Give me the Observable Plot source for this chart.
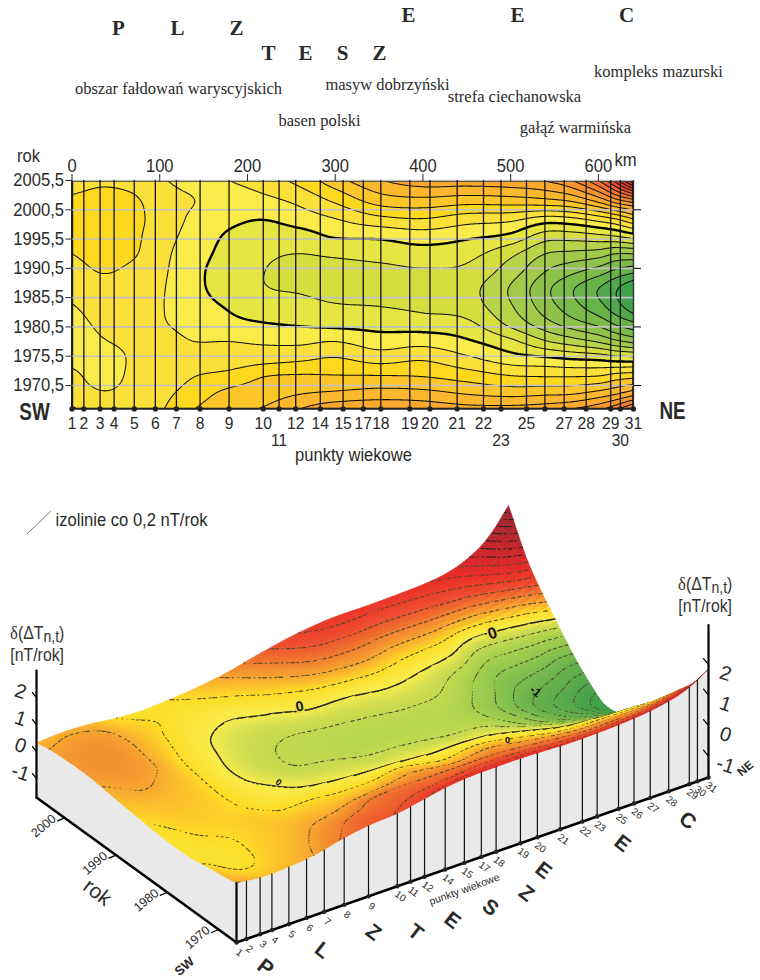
<!DOCTYPE html>
<html><head><meta charset="utf-8">
<script src="https://cdn.jsdelivr.net/npm/d3@7"></script>
<script src="https://cdn.jsdelivr.net/npm/@observablehq/plot@0.6"></script>
<style>
html,body{margin:0;padding:0;background:#fff}
svg{display:block;overflow:visible}
#wrap{position:relative;width:760px;height:980px;overflow:hidden}
.dl{position:absolute;font:18px/22px "Liberation Sans",sans-serif;color:#333;text-align:center;transform:scaleX(.88);transform-origin:left top}
.dl sub{font-size:16px;line-height:0;vertical-align:-3px}
.dl i{font:19px "Liberation Serif",serif}
</style></head><body><div id="wrap"></div>
<script>
// ---------- data ----------
const years=[2005.5,2002,1999,1996,1993,1990,1987,1984,1981,1978,1975,1972,1969,1966.5];
const kmColumns=[0,35,70,105,140,180,220,260,300,350,400,450,500,540,570,600,620,640];
const km000=[.32,.43,.46,.46,.40,.32,.26,.19,.14,.12,.15,.25,.32,.42];
const km035=[.37,.46,.50,.50,.47,.41,.32,.27,.23,.19,.14,.13,.22,.30];
const km070=[.33,.43,.45,.44,.42,.35,.30,.27,.25,.23,.22,.24,.27,.32];
const km105=[.21,.28,.30,.27,.24,.22,.205,.20,.21,.26,.28,.30,.36,.40];
const km140=[.15,.20,.16,.12,.08,.05,.05,.08,.12,.20,.30,.40,.50,.60];
const km180=[.20,.12,.05,-.03,-.07,-.10,-.09,-.02,.05,.20,.30,.47,.67,.76];
const km220=[.30,.15,.01,-.10,-.17,-.20,-.19,-.10,.01,.17,.33,.60,.72,.82];
const km260=[.47,.25,.10,-.08,-.20,-.23,-.22,-.13,-.02,.16,.37,.63,.80,1.00];
const km300=[.72,.43,.20,.02,-.17,-.26,-.27,-.18,-.05,.20,.42,.62,.85,1.15];
const km350=[.98,.68,.35,.04,-.13,-.25,-.28,-.20,-.07,.10,.33,.62,.90,1.18];
const km400=[1.12,.73,.40,.10,-.08,-.22,-.27,-.24,-.10,.13,.38,.60,.88,1.15];
const km450=[1.12,.68,.30,.04,-.13,-.25,-.33,-.30,-.15,.03,.25,.52,.80,1.08];
const km500=[1.15,.70,.26,-.05,-.35,-.50,-.62,-.58,-.45,-.15,.10,.42,.75,1.08];
const km540=[1.22,.74,.13,-.30,-.60,-.80,-.95,-.90,-.72,-.38,.05,.40,.78,1.12];
const km570=[1.40,.82,.17,-.30,-.65,-.95,-1.18,-1.12,-.90,-.50,0,.40,.80,1.20];
const km600=[1.80,1.05,.30,-.25,-.70,-1.10,-1.40,-1.33,-1.05,-.62,-.03,.42,.90,1.35];
const km620=[2.30,1.30,.42,-.20,-.80,-1.25,-1.58,-1.52,-1.22,-.75,-.08,.50,1.00,1.55];
const km640=[3.00,1.50,.62,-.10,-.80,-1.35,-1.77,-1.72,-1.35,-.85,-.10,.55,1.15,1.85];
const profiles=[km000,km035,km070,km105,km140,km180,km220,km260,km300,km350,km400,km450,km500,km540,km570,km600,km620,km640];

const pointNames=[1,2,3,4,5,6,7,8,9,10,11,12,14,15,17,18,19,20,21,22,23,25,26,27,28,29,30,31];
const pointKm=[0,13.5,32,48,71,95,119,146,179,218,236,255,283,309,332,352,385,408,439,469,489,518,539,561,586,614,625,640];
const lowerRowNames=[11,23,30];
const hiddenTopNames=[26];
const yearTicks=[2005.5,2000.5,1995.5,1990.5,1985.5,1980.5,1975.5,1970.5];
const kmTicks=[0,100,200,300,400,500,600];
const rightTicks=[2000.5,1990.5,1980.5,1970.5];
const bandBreaks=[-1.6,-1.4,-1.2,-1,-.8,-.6,-.4,-.2,0,.2,.4,.6,.8,1,1.2,1.4,1.6,1.8,2,2.2,2.4,2.6,2.8];
const bandColors=["#3fa34a","#4fa94a","#66b34a","#7cbb4a","#8fc24a","#a2c94a","#b8d24a","#d5de3e","#e6e543","#f9ec4a","#fce03a","#fdd81f","#fcc62a","#fbb72e","#f9a92e","#f7962d","#f4842c","#f2722c","#ef602c","#ec4e2c","#e63c2c","#df352c","#d9322c","#d22f2c"];
const surfaceStops=[-2,-1.6,-1,-.4,-.12,0,.2,.32,.45,.65,.85,1.2,1.8,2.4,3.1];
const surfaceColors=["#3a9a48","#439f48","#66b04a","#a3cf4b","#cfdc4e","#f8ec4a","#fddc22","#fbb82b","#f59a2e","#f0702c","#ed4a2b","#ea2a26","#c6252c","#aa262e","#8f2a2e"];
const zTicks=[2,1,0,-1];
const axisYears=[2000,1990,1980,1970];
const formations=["P","L","Z","T","E","S","Z","E","E","C"];
const regions=["obszar fałdowań waryscyjskich","masyw dobrzyński","strefa ciechanowska","kompleks mazurski","basen polski","gałąź warmińska"];

function hermite(xs,ys,x){
  let i=0;const n=xs.length;
  while(i<n-2&&x>xs[i+1])i++;
  const h=xs[i+1]-xs[i],t=Math.max(0,Math.min(1,(x-xs[i])/h));
  const slope=k=>k<=0?(ys[1]-ys[0])/(xs[1]-xs[0]):k>=n-1?(ys[n-1]-ys[n-2])/(xs[n-1]-xs[n-2]):(ys[k+1]-ys[k-1])/(xs[k+1]-xs[k-1]);
  const m0=slope(i)*h,m1=slope(i+1)*h,t2=t*t,t3=t2*t;
  return (2*t3-3*t2+1)*ys[i]+(t3-2*t2+t)*m0+(-2*t3+3*t2)*ys[i+1]+(t3-t2)*m1;
}
const asc=[...years].reverse();
const rows=asc.map((_,r)=>profiles.map(p=>p[years.length-1-r]));
function surface(km,yr){
  const col=rows.map(row=>hermite(kmColumns,row,km));
  return hermite(asc,col,yr);
}
const NARROW='"Liberation Sans Narrow","Liberation Sans",sans-serif';
const SERIF='"Liberation Serif",serif';
const WIDE='"Liberation Sans",sans-serif';
const INK="#2a2a2a";
const wrap=document.getElementById("wrap");

// ---------- top panel ----------
const mt=180,ml=71.5,mr=127,topH=470,mb=topH-408.4;
const at=(t,x,y,o={})=>Plot.text([t],{text:d=>d,frameAnchor:"top-left",dx:x-ml,dy:y-mt,textAnchor:"middle",lineAnchor:"middle",fill:INK,fontFamily:NARROW,fontSize:18,...o});
const thresholds=[-2,...bandBreaks];
const contourBase={value:surface,x1:0,x2:640,y1:1966.5,y2:2005.5,pixelSize:1,smooth:true};
const fmPos=[[118,28],[177,28],[236,28],[268,53],[305,53],[342,53],[379,53],[408,15],[517,15],[626,15]];
const regPos=[[178,88],[387,84],[514,96],[658,71],[319,120],[575,127]];
const pts=pointNames.map((n,i)=>({n:String(n),num:n,km:pointKm[i]}));
const upper=pts.filter(d=>!lowerRowNames.includes(d.num)&&!hiddenTopNames.includes(d.num));
const lower=pts.filter(d=>lowerRowNames.includes(d.num));
const topChart=Plot.plot({
  width:760,height:topH,marginTop:mt,marginLeft:ml,marginRight:mr,marginBottom:mb,
  style:{background:"transparent",overflow:"visible"},
  x:{domain:[0,640],label:null},y:{domain:[1966.5,2005.5],label:null},
  color:{type:"threshold",domain:bandBreaks,range:bandColors},
  marks:[
    Plot.contour({...contourBase,thresholds,fill:"value",stroke:"none"}),
    Plot.contour({...contourBase,thresholds:bandBreaks.filter(d=>d!==0),fill:"none",stroke:"#111",strokeWidth:1.05,clip:true}),
    Plot.contour({...contourBase,thresholds:[0],fill:"none",stroke:"#000",strokeWidth:2.4,clip:true}),
    Plot.ruleY(yearTicks,{stroke:"#c2c2c2",strokeWidth:1.6}),
    Plot.ruleX(pts.slice(1),{x:"km",stroke:"#111",strokeWidth:1.3}),
    Plot.ruleX([0,640],{stroke:"#333",strokeWidth:1}),
    Plot.ruleY([1966.5],{stroke:"#222",strokeWidth:1.6}),
    Plot.dot(pts,{x:"km",y:()=>1966.5,r:2.6,fill:"#222"}),
    Plot.axisX({anchor:"top",ticks:kmTicks,tickSize:7,tickPadding:2,label:null,fontSize:18,fontFamily:NARROW,color:INK}),
    Plot.axisY({anchor:"left",ticks:yearTicks,tickSize:6,tickPadding:2,label:null,fontSize:18,fontFamily:NARROW,color:INK,tickFormat:d=>String(d).replace(".",",")}),
    Plot.axisY({anchor:"right",ticks:rightTicks,tickSize:7,label:null,tickFormat:()=>""}),
    Plot.text(upper,{x:"km",text:"n",frameAnchor:"bottom",dy:15,lineAnchor:"middle",fontSize:17,fontFamily:NARROW,fill:INK}),
    Plot.text(lower,{x:"km",text:"n",frameAnchor:"bottom",dy:32,lineAnchor:"middle",fontSize:17,fontFamily:NARROW,fill:INK}),
    at("rok",28,156),
    at("km",625,160),
    at("punkty wiekowe",353,455),
    at("SW",34,412,{fontSize:23,fontWeight:"bold"}),
    at("NE",672,411,{fontSize:23,fontWeight:"bold"}),
    ...formations.map((t,i)=>at(t,fmPos[i][0],fmPos[i][1],{fontFamily:SERIF,fontWeight:"bold",fontSize:21})),
    ...regions.map((t,i)=>at(t,regPos[i][0],regPos[i][1],{fontFamily:SERIF,fontSize:16.5}))
  ]
});
wrap.append(topChart);

// ---------- bottom panel: oblique view of the same surface ----------
const offY=470;
function px(km,yr,v){
  const u=km/640,w=(yr-1966.5)/39;
  const bx=236+472*u-200*w, by=942-165*u-145*w;
  const zs=28+2.5*u*(1-w)-1*w;
  return [bx,by-(v+1.7)*zs-offY];
}
const base=(km,yr)=>px(km,yr,-1.7);
const tint=d3.scaleLinear(surfaceStops,surfaceColors).clamp(true);
const NU=170,NW=80;
const U=d3.range(NU+1).map(i=>640*i/NU);
const W=d3.range(NW+1).map(j=>2005.5-39*j/NW);       // back to front
const V=W.map(()=>U.map(()=>0));
U.forEach((km,i)=>{
  const col=rows.map(row=>hermite(kmColumns,row,km));
  W.forEach((y,j)=>{V[j][i]=hermite(asc,col,y)});
});
const P=W.map((y,j)=>U.map((km,i)=>px(km,y,V[j][i])));
const isoLevels=d3.range(-16,16).map(k=>+(k/5).toFixed(1));
const feats=[];
for(let j=0;j<NW;j++){
  for(let i=0;i<NU;i++){
    const q=[P[j][i],P[j][i+1],P[j+1][i+1],P[j+1][i]];
    const c=tint((V[j][i]+V[j][i+1]+V[j+1][i+1]+V[j+1][i])/4);
    feats.push({g:{type:"Polygon",coordinates:[[q[0],q[1],q[2],q[3],q[0]]]},f:c,s:c,w:.7});
  }
  for(let i=0;i<NU;i++){
    const vs=[V[j][i],V[j][i+1],V[j+1][i+1],V[j+1][i]];
    const ps=[P[j][i],P[j][i+1],P[j+1][i+1],P[j+1][i]];
    const lo=d3.min(vs),hi=d3.max(vs);
    for(const t of isoLevels){
      if(t<lo||t>=hi)continue;
      if(t!==0&&(i+j)%2)continue;
      const cross=[];
      for(let e=0;e<4;e++){
        const a=vs[e],b=vs[(e+1)%4];
        if((a<=t)!==(b<=t)){
          const f=(t-a)/(b-a),A=ps[e],B=ps[(e+1)%4];
          cross.push([A[0]+(B[0]-A[0])*f,A[1]+(B[1]-A[1])*f]);
        }
      }
      if(cross.length>=2){
        const dark=t===0;
        feats.push({g:{type:"LineString",coordinates:cross.slice(0,2)},f:"none",s:dark?"#2a2a20":(t>=1.6?"#222":"#4a4a30"),w:dark?1.5:1.1});
      }
    }
  }
}
// walls
const frontTop=U.map((km,i)=>P[NW][i]);
const leftTop=W.map((y,j)=>P[j][0]);
const poly=a=>({type:"Polygon",coordinates:[[...a,a[0]]]});
const walls=[
  poly([...frontTop,base(640,1966.5),base(0,1966.5)]),
  poly([...leftTop,base(0,1966.5),base(0,2005.5)])
];
const seg=(a,b)=>({type:"LineString",coordinates:[a,b]});
const front=pts.map(d=>({...d,v:surface(d.km,1966.5)}));
const shift=(p,dx,dy)=>[p[0]+dx,p[1]+dy];
const yearTickLines=axisYears.map(y=>seg(base(0,y),shift(base(0,y),-7,3)));
const leftZ=zTicks.map(z=>seg(px(0,2005.5,z),shift(px(0,2005.5,z),-4,-5)));
const rightZ=zTicks.map(z=>seg(px(640,1966.5,z),shift(px(640,1966.5,z),-5,-6)));
const lab=(t,p,o={})=>Plot.text([{t:String(t),x:p[0],y:p[1]}],{x:"x",y:"y",text:"t",textAnchor:"middle",lineAnchor:"middle",fill:INK,fontFamily:WIDE,...o});
const lettersPos=[[265,967],[322,950],[373,932],[415,932],[452,920],[490,907],[526,893],[543,870],[622,843],[687,820]];
const letters3d=formations.map((t,i)=>lab(t,[lettersPos[i][0],lettersPos[i][1]-offY],{fontWeight:"bold",fontSize:21,rotate:38}));
const zLab=zTicks.map(z=>lab(z,shift(px(0,2005.5,z),-16,-6),{fontSize:20,rotate:18}));
const zLabR=zTicks.map(z=>lab(z,shift(px(640,1966.5,z),17,9),{fontSize:20,rotate:18}));
const yearLab=axisYears.map(y=>lab(y,shift(base(0,y),-21,8),{fontSize:12.5,rotate:-40}));
const ptLab=pts.map(d=>lab(d.n,shift(base(d.km,1966.5),3,10),{fontSize:10,rotate:36}));
const bottomChart=Plot.plot({
  width:760,height:510,margin:0,
  projection:"identity",
  color:{type:"identity"},
  style:{background:"transparent",overflow:"visible"},
  marks:[
    Plot.geo(feats,{geometry:d=>d.g,fill:d=>d.f,stroke:d=>d.s,strokeWidth:d=>d.w}),
    Plot.geo(walls,{fill:"#e9e9e9",stroke:"none"}),
    Plot.geo(front.slice(1),{geometry:d=>seg(base(d.km,1966.5),px(d.km,1966.5,d.v)),stroke:"#111",strokeWidth:1.2}),
    Plot.geo([seg(base(0,2005.5),base(0,1966.5)),seg(base(0,1966.5),base(640,1966.5))],{stroke:"#000",strokeWidth:2.6}),
    Plot.geo([seg(base(0,1966.5),px(0,1966.5,surface(0,1966.5))),seg(base(0,2005.5),px(0,2005.5,3)),seg(base(640,1966.5),px(640,1966.5,3.3))],{stroke:"#000",strokeWidth:2.2}),
    Plot.geo([...yearTickLines,...leftZ,...rightZ],{stroke:"#000",strokeWidth:1.3}),
    Plot.dot(front,{x:d=>base(d.km,1966.5)[0],y:d=>base(d.km,1966.5)[1],r:2.2,fill:"#222"}),
    Plot.geo([seg([27,533-offY],[50,511-offY])],{stroke:"#555",strokeWidth:.8}),
    lab("izolinie co 0,2 nT/rok",[131,520-offY],{fontSize:18,fontFamily:NARROW}),
    lab("rok",[97,892-offY],{fontSize:21,rotate:38}),
    lab("SW",[184,966-offY],{fontSize:13,fontWeight:"bold",rotate:-40}),
    lab("NE",[745,768-offY],{fontSize:12,fontWeight:"bold",rotate:-40}),
    lab("punkty wiekowe",[464,889-offY],{fontSize:10.5,rotate:-20}),
    lab("0",[299,706-offY],{fontSize:14,fontWeight:"bold",fill:"#111",rotate:-12,stroke:"#e8e24a",strokeWidth:3}),
    lab("0",[492,633-offY],{fontSize:16,fontWeight:"bold",fill:"#111",rotate:-20,stroke:"#e4d84a",strokeWidth:3}),
    lab("0",[278,782-offY],{fontSize:9,fontWeight:"bold",fill:"#111",rotate:40}),
    lab("0",[507,740-offY],{fontSize:9,fontWeight:"bold",fill:"#111"}),
    lab("-1",[535,691-offY],{fontSize:12,fontWeight:"bold",fill:"#111",rotate:40}),
    ...zLab,...zLabR,...yearLab,...ptLab,...letters3d
  ]
});
wrap.append(bottomChart);
for(const [l,t] of [[10,622],[678,573]]){
  const d=document.createElement("div");
  d.className="dl";d.style.left=l+"px";d.style.top=t+"px";
  d.innerHTML='<i>δ</i>(ΔT<sub>n,t</sub>)<br>[nT/rok]';
  wrap.append(d);
}
// the reference face is a condensed grotesque: condense the glyphs of its labels
wrap.querySelectorAll("text").forEach(el=>{
  const cs=getComputedStyle(el);
  if(!cs.fontFamily.includes("Narrow"))return;
  const len=el.getComputedTextLength();
  if(!len)return;
  const k=(+cs.fontWeight>=600)?.82:.92;
  el.setAttribute("textLength",(len*k).toFixed(1));
  el.setAttribute("lengthAdjust","spacingAndGlyphs");
});
</script></body></html>
